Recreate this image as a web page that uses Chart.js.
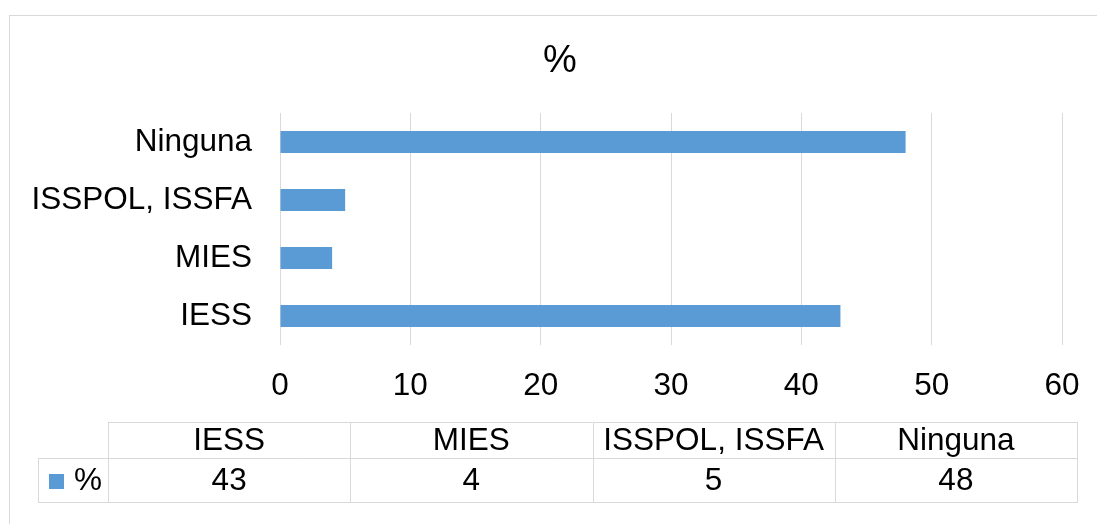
<!DOCTYPE html>
<html>
<head>
<meta charset="utf-8">
<script src="https://cdn.jsdelivr.net/npm/chart.js@4"></script>
<style>
  html, body { margin: 0; padding: 0; background: #fff; overflow: hidden; }
  #wrap { position: relative; width: 1097px; height: 524px; }
  #frame { position: absolute; left: 9px; top: 15px; width: 1200px; height: 600px; border: 1px solid #d9d9d9; box-sizing: border-box; }
  #c { position: absolute; left: 0; top: 0; }
</style>
</head>
<body>
<div id="wrap">
  <div id="frame"></div>
  <canvas id="c" width="1097" height="524"></canvas>
</div>
<script>
// ---- data ----
const categories = ['IESS', 'MIES', 'ISSPOL, ISSFA', 'Ninguna'];
const seriesName = '%';
const seriesValues = [43, 4, 5, 48];
const axisMin = 0;
const axisMax = 60;
const axisStep = 10;

// ---- styles ----
const FONT = '"Liberation Sans", Arial, sans-serif';
const BAR_COLOR = '#5B9BD5';
const GRID_COLOR = '#d9d9d9';
const TEXT_COLOR = '#000000';
const LABEL_SIZE = 31.5;
const TITLE_SIZE = 38;
const TITLE_POS = { x: 560, y: 62 };

// data table layout
const TABLE = {
  left: 108, right: 1077, labelLeft: 38,
  top: 422, mid: 458, bottom: 502,
  keyX: 49, keySize: 15, labelTextX: 74
};

const PAD_RIGHT = 35;
const PLOT_LEFT = 280;
const PLOT_TOP = 113;

const extrasPlugin = {
  id: 'extras',
  afterDraw(chart) {
    const ctx = chart.ctx;
    const n = categories.length;
    const colW = (TABLE.right - TABLE.left) / n;
    ctx.save();
    // title
    ctx.fillStyle = TEXT_COLOR;
    ctx.font = TITLE_SIZE + 'px ' + FONT;
    ctx.textAlign = 'center';
    ctx.textBaseline = 'middle';
    ctx.fillText(seriesName, TITLE_POS.x, TITLE_POS.y);

    // data table grid
    ctx.strokeStyle = GRID_COLOR;
    ctx.lineWidth = 1;
    ctx.beginPath();
    ctx.moveTo(TABLE.left, TABLE.top + 0.5); ctx.lineTo(TABLE.right, TABLE.top + 0.5);
    ctx.moveTo(TABLE.labelLeft, TABLE.mid + 0.5); ctx.lineTo(TABLE.right, TABLE.mid + 0.5);
    ctx.moveTo(TABLE.labelLeft, TABLE.bottom + 0.5); ctx.lineTo(TABLE.right, TABLE.bottom + 0.5);
    ctx.moveTo(TABLE.labelLeft + 0.5, TABLE.mid); ctx.lineTo(TABLE.labelLeft + 0.5, TABLE.bottom + 1);
    for (let i = 0; i <= n; i++) {
      const x = Math.round(TABLE.left + i * colW) + 0.5;
      ctx.moveTo(x, TABLE.top); ctx.lineTo(x, TABLE.bottom + 1);
    }
    ctx.stroke();

    ctx.fillStyle = TEXT_COLOR;
    ctx.font = LABEL_SIZE + 'px ' + FONT;
    ctx.textAlign = 'center';
    ctx.textBaseline = 'middle';
    const hy = (TABLE.top + TABLE.mid) / 2 + 1;
    const vy = (TABLE.mid + TABLE.bottom) / 2 + 1;
    for (let i = 0; i < n; i++) {
      const cx = TABLE.left + (i + 0.5) * colW;
      ctx.fillText(categories[i], cx, hy);
      ctx.fillText(String(seriesValues[i]), cx, vy);
    }
    ctx.fillStyle = BAR_COLOR;
    ctx.fillRect(TABLE.keyX, Math.round(vy - TABLE.keySize / 2), TABLE.keySize, TABLE.keySize);
    ctx.fillStyle = TEXT_COLOR;
    ctx.textAlign = 'left';
    ctx.fillText(seriesName, TABLE.labelTextX, vy);
    ctx.restore();
  }
};

new Chart(document.getElementById('c'), {
  type: 'bar',
  data: {
    labels: categories,
    datasets: [{
      label: seriesName,
      data: seriesValues,
      backgroundColor: BAR_COLOR,
      borderWidth: 0,
      barPercentage: 0.38,
      categoryPercentage: 1.0
    }]
  },
  options: {
    indexAxis: 'y',
    responsive: false,
    animation: false,
    layout: { padding: { left: 0, right: PAD_RIGHT, top: PLOT_TOP, bottom: 119 } },
    plugins: {
      legend: { display: false },
      tooltip: { enabled: false },
      title: { display: false }
    },
    scales: {
      x: {
        min: axisMin, max: axisMax,
        ticks: {
          stepSize: axisStep,
          color: TEXT_COLOR,
          font: { family: FONT, size: LABEL_SIZE },
          padding: 22,
          maxRotation: 0
        },
        grid: { color: GRID_COLOR, lineWidth: 1, drawTicks: false },
        border: { display: false },
        afterFit(scale) { scale.height = 60; scale.paddingRight = 0; scale.paddingLeft = 0; }
      },
      y: {
        reverse: true,
        ticks: {
          color: TEXT_COLOR,
          font: { family: FONT, size: LABEL_SIZE },
          padding: 28
        },
        grid: { display: false, drawTicks: false },
        border: { display: false },
        afterFit(scale) { scale.width = PLOT_LEFT; }
      }
    }
  },
  plugins: [extrasPlugin]
});
</script>
</body>
</html>
